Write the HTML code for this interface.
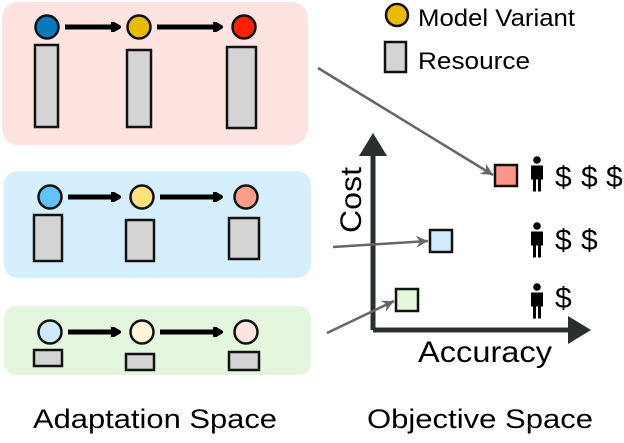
<!DOCTYPE html>
<html><head><style>body{margin:0;background:#fff}</style></head><body>
<svg width="624" height="438" viewBox="0 0 624 438" xmlns="http://www.w3.org/2000/svg" font-family="Liberation Sans, sans-serif">
<defs>
<marker id="ah" markerWidth="10" markerHeight="10" refX="7" refY="5" orient="auto" markerUnits="userSpaceOnUse"><path d="M1,1 L8,5 L1,9" fill="none" stroke="#000" stroke-width="4" stroke-linecap="round" stroke-linejoin="round"/></marker>
<marker id="gh" markerWidth="14" markerHeight="12" refX="12" refY="6" orient="auto" markerUnits="userSpaceOnUse"><path d="M0,0 L12,6 L0,12 L4,6 Z" fill="#666"/></marker>
</defs>
<rect x="2" y="2" width="306" height="143" rx="16" fill="#fde4e1"/>
<rect x="4" y="171" width="307" height="107" rx="14" fill="#d5effd"/>
<rect x="4" y="306" width="307" height="69" rx="12" fill="#e4f7de"/>
<g stroke="#111" stroke-width="2.5">
<line x1="65" y1="27" x2="118" y2="27" stroke="#000" stroke-width="5" marker-end="url(#ah)"/>
<line x1="157" y1="27" x2="220" y2="27" stroke="#000" stroke-width="5" marker-end="url(#ah)"/>
<circle cx="47" cy="27" r="11.5" fill="#0a78bf"/>
<circle cx="139" cy="27" r="11.5" fill="#e8bb00"/>
<circle cx="244" cy="27" r="11.5" fill="#ff2200"/>
<rect x="35" y="45" width="23" height="82" fill="#d4d4d4"/>
<rect x="127" y="50" width="24" height="77" fill="#d4d4d4"/>
<rect x="227" y="47" width="29" height="81" fill="#d4d4d4"/>
<line x1="68" y1="197" x2="118" y2="197" stroke="#000" stroke-width="5" marker-end="url(#ah)"/>
<line x1="160" y1="197" x2="220" y2="197" stroke="#000" stroke-width="5" marker-end="url(#ah)"/>
<circle cx="50" cy="197" r="11.5" fill="#62c3fc"/>
<circle cx="142" cy="197" r="11.5" fill="#ffe27e"/>
<circle cx="246" cy="197" r="11.5" fill="#fe9d8c"/>
<rect x="34" y="215" width="28" height="46" fill="#d4d4d4"/>
<rect x="126" y="220" width="28" height="41" fill="#d4d4d4"/>
<rect x="229" y="218" width="30" height="41" fill="#d4d4d4"/>
<line x1="68" y1="332" x2="118" y2="332" stroke="#000" stroke-width="5" marker-end="url(#ah)"/>
<line x1="160" y1="332" x2="220" y2="332" stroke="#000" stroke-width="5" marker-end="url(#ah)"/>
<circle cx="50" cy="332" r="11.5" fill="#cfe9fd"/>
<circle cx="142" cy="332" r="11.5" fill="#fff7d8"/>
<circle cx="246" cy="332" r="11.5" fill="#fde4e1"/>
<rect x="34" y="350" width="28" height="16" fill="#d4d4d4"/>
<rect x="126" y="354" width="28" height="16" fill="#d4d4d4"/>
<rect x="229" y="352" width="30" height="18" fill="#d4d4d4"/>
<circle cx="397" cy="15" r="11" fill="#e8bb00"/>
<rect x="385" y="42" width="21" height="30" fill="#d4d4d4"/>
</g>
<text x="418" y="26" font-size="24" textLength="157" lengthAdjust="spacingAndGlyphs">Model Variant</text>
<text x="418" y="69" font-size="24" textLength="112" lengthAdjust="spacingAndGlyphs">Resource</text>
<line x1="373" y1="150" x2="373" y2="330" stroke="#2a302c" stroke-width="5"/>
<line x1="373" y1="330" x2="570" y2="330" stroke="#2a302c" stroke-width="5"/>
<path d="M373,133 L387,156 L359,156 Z" fill="#2a302c"/>
<path d="M591,330 L568,316 L568,344 Z" fill="#2a302c"/>
<text transform="translate(361,233) rotate(-90)" font-size="30" textLength="66" lengthAdjust="spacingAndGlyphs">Cost</text>
<text x="418" y="362" font-size="30" textLength="134" lengthAdjust="spacingAndGlyphs">Accuracy</text>
<g stroke="#666" stroke-width="2.5" fill="none">
<line x1="318" y1="68" x2="493" y2="175" marker-end="url(#gh)"/>
<line x1="333" y1="247" x2="428" y2="241" marker-end="url(#gh)"/>
<line x1="327" y1="333" x2="394" y2="301" marker-end="url(#gh)"/>
</g>
<g stroke="#111" stroke-width="2.5">
<rect x="495" y="165" width="22" height="21" fill="#fa968a"/>
<rect x="430" y="230" width="22" height="22" fill="#d1ebfd"/>
<rect x="396" y="289" width="22" height="22" fill="#e3f7da"/>
</g>
<g fill="#000">
<g transform="translate(537,160)"><circle cx="0" cy="0" r="3.8"/><path d="M-6,5.5 h12 v14 h-2 v12 h-3 v-12 h-2 v12 h-3 v-12 h-2 Z"/></g>
<g transform="translate(537,226)"><circle cx="0" cy="0" r="3.8"/><path d="M-6,5.5 h12 v14 h-2 v12 h-3 v-12 h-2 v12 h-3 v-12 h-2 Z"/></g>
<g transform="translate(537,287)"><circle cx="0" cy="0" r="3.8"/><path d="M-6,5.5 h12 v14 h-2 v12 h-3 v-12 h-2 v12 h-3 v-12 h-2 Z"/></g>
</g>
<g font-size="30">
<text x="555" y="187">$</text><text x="581" y="187">$</text><text x="606" y="187">$</text>
<text x="555" y="250">$</text><text x="581" y="250">$</text>
<text x="555" y="308">$</text>
</g>
<text x="33" y="428" font-size="27" textLength="244" lengthAdjust="spacingAndGlyphs">Adaptation Space</text>
<text x="367" y="428" font-size="27" textLength="226" lengthAdjust="spacingAndGlyphs">Objective Space</text>
</svg>
</body></html>
